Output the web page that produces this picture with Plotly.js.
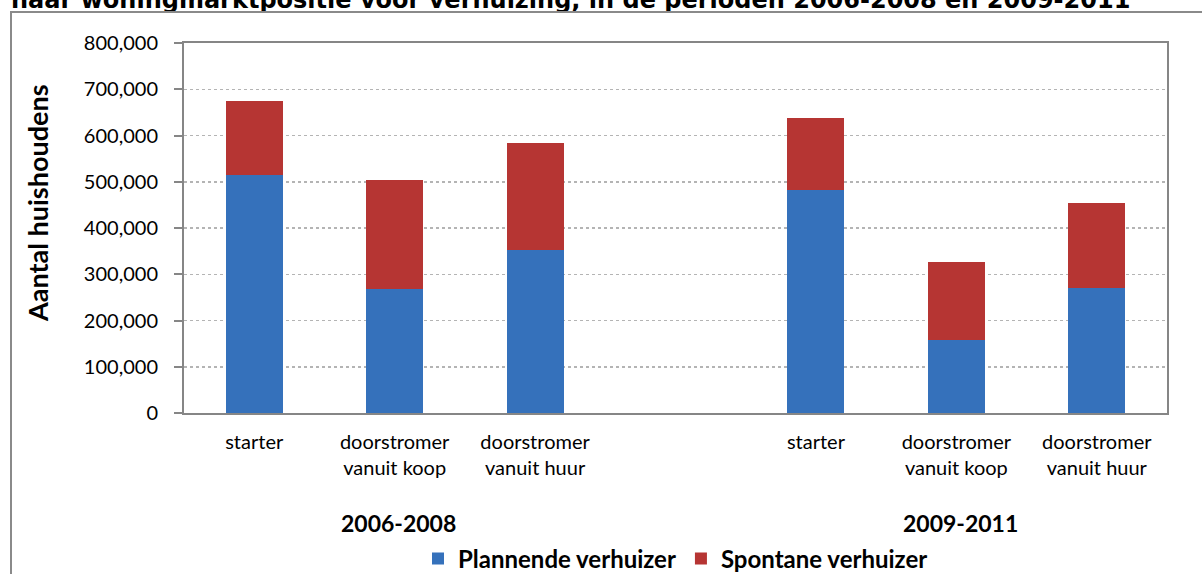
<!DOCTYPE html>
<html>
<head>
<meta charset="utf-8">
<script src="https://cdn.plot.ly/plotly-3.0.1.min.js"></script>
<style>
  html, body { margin: 0; padding: 0; overflow: hidden; background: #fff; }
  #wrap { position: relative; width: 1202px; height: 574px; overflow: hidden; }
  #chart { width: 1202px; height: 574px; }
  #frame { position: absolute; left: 10px; top: 11px; width: 1230px; height: 600px;
           border: 2px solid #8a8a8a; box-sizing: border-box; pointer-events: none; }
</style>
</head>
<body>
<div id="wrap">
  <div id="chart"></div>
  <div id="frame"></div>
</div>
<script>
// ---- data ----
const periods = ['2006-2008', '2009-2011'];
const categories = ['starter', 'doorstromer<br>vanuit koop', 'doorstromer<br>vanuit huur'];
const plannend_2006 = [515000, 269000, 352000];
const spontaan_2006 = [160000, 235000, 232000];
const plannend_2009 = [483000, 157000, 270000];
const spontaan_2009 = [155000, 170000, 184000];
const seriesNames = ['Plannende verhuizer', 'Spontane verhuizer'];
const titleText = 'naar woningmarktpositie voor verhuizing, in de perioden 2006-2008 en 2009-2011';
const yTitle = 'Aantal huishoudens';

// ---- build positions (one empty slot between the periods) ----
const xs = [], labels = [], plan = [], spon = [];
const planByPeriod = [plannend_2006, plannend_2009];
const sponByPeriod = [spontaan_2006, spontaan_2009];
periods.forEach((p, pi) => {
  categories.forEach((c, ci) => {
    xs.push(pi * (categories.length + 1) + ci);
    labels.push(c);
    plan.push(planByPeriod[pi][ci]);
    spon.push(sponByPeriod[pi][ci]);
  });
});
const groupCenters = periods.map((p, pi) => pi * (categories.length + 1) + (categories.length - 1) / 2);

const FONT = 'Lato, "Open Sans", sans-serif';

const traces = [
  { type: 'bar', name: seriesNames[0], x: xs, y: plan,
    marker: { color: '#3571bb' }, hoverinfo: 'y' },
  { type: 'bar', name: seriesNames[1], x: xs, y: spon,
    marker: { color: '#b63533' }, hoverinfo: 'y' }
];

const annotations = periods.map((p, i) => ({
  text: '<b>' + p + '</b>', x: groupCenters[i] + 0.03, xref: 'x',
  y: (413 - 523) / 370, yref: 'paper', yanchor: 'middle', showarrow: false,
  font: { family: FONT, size: 23, color: '#000' }
}));
annotations.push({
  text: '<b>' + yTitle + '</b>', textangle: -90, showarrow: false,
  xref: 'paper', x: (37 - 184) / 983, xanchor: 'center',
  yref: 'paper', y: (413 - 203) / 370, yanchor: 'middle',
  font: { family: FONT, size: 27, color: '#000' }
});

const layout = {
  width: 1202, height: 574,
  margin: { l: 184, r: 35, t: 43, b: 161 },
  paper_bgcolor: '#ffffff', plot_bgcolor: '#ffffff',
  barmode: 'stack', bargap: 0.594,
  font: { family: FONT, size: 20, color: '#000' },
  title: { text: '<b>' + titleText + '</b>', xref: 'container', yref: 'container',
           x: 11 / 1202, xanchor: 'left', y: 1, yanchor: 'middle',
           font: { family: '"DejaVu Sans", Verdana, sans-serif', size: 24, color: '#000' } },
  xaxis: {
    range: [-0.5, xs[xs.length - 1] + 0.5],
    tickmode: 'array', tickvals: xs, ticktext: labels,
    showgrid: false, zeroline: false,
    showline: true, linecolor: '#868686', linewidth: 2, mirror: true,
    ticks: '', ticklabelstandoff: 10,
    tickfont: { family: FONT, size: 20, color: '#000' }
  },
  yaxis: {
    range: [0, 800000], dtick: 100000, tickformat: ',',
    showgrid: true, gridcolor: '#b4b4b4', gridwidth: 1.5, griddash: 'dot',
    zeroline: false,
    showline: true, linecolor: '#868686', linewidth: 2, mirror: true,
    ticks: 'outside', ticklen: 8, tickcolor: '#868686', tickwidth: 2,
    ticklabelstandoff: 12,
    tickfont: { family: FONT, size: 20, color: '#000' }
  },
  legend: {
    orientation: 'h', x: 0.5, xanchor: 'center',
    yref: 'container', y: 1 - 559 / 574, yanchor: 'middle',
    font: { family: FONT, size: 24, color: '#000', weight: 'bold' },
    itemwidth: 30, traceorder: 'normal', bgcolor: 'rgba(0,0,0,0)'
  },
  annotations: annotations,
  showlegend: true
};

Plotly.newPlot('chart', traces, layout, { displayModeBar: false, staticPlot: true });
</script>
</body>
</html>
